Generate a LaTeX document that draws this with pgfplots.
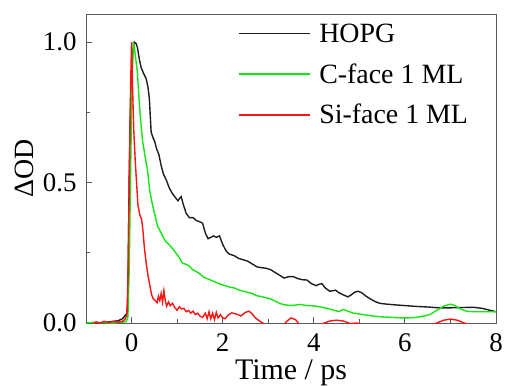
\documentclass[border=0pt]{standalone}
\usepackage{fontspec}
\setmainfont{Liberation Serif}
\usepackage{pgfplots}
\pgfplotsset{compat=1.18}
\definecolor{cblack}{RGB}{30,30,30}
\definecolor{cgreen}{RGB}{20,230,20}
\definecolor{cred}{RGB}{250,20,20}
\definecolor{cframe}{RGB}{90,90,90}
\begin{document}
\begin{tikzpicture}
\begin{axis}[
  scale only axis, width=410bp, height=309bp,
  xmin=-1, xmax=8, ymin=0, ymax=1.1,
  xtick={0,2,4,6,8}, minor xtick={1,3,5,7},
  ytick={0,0.5,1}, minor ytick={0.25,0.75},
  tick align=inside, xtick pos=bottom, ytick pos=left,
  major tick length=6bp, minor tick length=4bp,
  axis line style={cframe, line width=0.9bp},
  every tick/.style={cframe, line width=0.9bp},
  /pgf/number format/assume math mode=true,
  yticklabel style={xshift=-6bp, /pgf/number format/.cd, fixed, fixed zerofill, precision=1},
  tick label style={font=\fontsize{27}{31}\selectfont},
  xlabel={Time / ps}, ylabel={ΔOD},
  xlabel style={font=\fontsize{30}{34}\selectfont, yshift=-1bp},
  ylabel style={font=\fontsize{28}{32}\selectfont, yshift=2bp},
  xticklabel style={yshift=-7bp},
  legend style={draw=none, fill=none, at={(0.37,0.976)}, anchor=north west,
    font=\fontsize{28}{32}\selectfont, row sep=15.8bp, inner sep=0pt},
  legend cell align=left,
  every axis plot/.append style={line width=1.4bp},
]
\addplot[cblack, legend image code/.code={\draw[cblack, line width=1.4bp] (0bp,0bp) -- (71bp,0bp); \path (78bp,0bp);}] coordinates {
(-1.0,0.000) (-0.8,0.002) (-0.6,0.000) (-0.5,0.004) (-0.4,0.006) (-0.3,0.008) (-0.2,0.015) (-0.15,0.025) (-0.1,0.035)
(-0.08,0.10) (-0.05,0.55) (-0.02,0.80) (0.03,0.97) (0.06,1.0) (0.10,0.995) (0.13,0.98) (0.17,0.94) (0.21,0.91) (0.26,0.89)
(0.32,0.87) (0.36,0.84) (0.39,0.80) (0.41,0.74) (0.43,0.68) (0.47,0.66) (0.51,0.645) (0.55,0.62) (0.60,0.60) (0.65,0.56)
(0.70,0.53) (0.76,0.51) (0.83,0.48) (0.90,0.46) (0.97,0.445) (1.02,0.435) (1.06,0.445) (1.09,0.45) (1.13,0.425) (1.20,0.39)
(1.27,0.375) (1.35,0.375) (1.42,0.365) (1.50,0.36) (1.56,0.355) (1.62,0.32) (1.68,0.30) (1.74,0.305) (1.80,0.31) (1.86,0.305)
(1.93,0.31) (2.00,0.28) (2.08,0.255) (2.15,0.245) (2.25,0.24) (2.35,0.23) (2.45,0.225) (2.55,0.22) (2.65,0.21) (2.75,0.20)
(2.85,0.197) (2.95,0.195) (3.05,0.19) (3.15,0.18) (3.25,0.17) (3.35,0.16) (3.45,0.165) (3.55,0.165) (3.65,0.158) (3.75,0.154)
(3.85,0.153) (3.95,0.14) (4.05,0.133) (4.12,0.138) (4.18,0.14) (4.25,0.125) (4.35,0.113) (4.42,0.115) (4.48,0.117) (4.55,0.108)
(4.65,0.100) (4.75,0.093) (4.82,0.100) (4.90,0.110) (4.97,0.113) (5.05,0.108) (5.15,0.095) (5.25,0.085) (5.35,0.076) (5.45,0.070)
(5.55,0.068) (5.75,0.065) (6.0,0.062) (6.25,0.059) (6.5,0.057) (6.75,0.054) (7.0,0.054) (7.25,0.055) (7.5,0.056) (7.7,0.052)
(7.85,0.046) (8.0,0.040)
};
\addlegendentry{HOPG}
\addplot[cgreen, legend image code/.code={\draw[cgreen, line width=1.4bp] (0bp,0bp) -- (71bp,0bp); \path (78bp,0bp);}] coordinates {
(-1.0,0) (-0.8,0.002) (-0.6,0.001) (-0.4,0.000) (-0.2,0.003) (-0.12,0.005) (-0.08,0.02) (-0.05,0.2) (-0.02,0.55) (0.01,0.85)
(0.04,1.0) (0.07,0.97) (0.10,0.93) (0.13,0.89) (0.16,0.81) (0.19,0.74) (0.24,0.65) (0.30,0.59) (0.35,0.545) (0.40,0.47)
(0.46,0.42) (0.52,0.38) (0.57,0.345) (0.62,0.33) (0.68,0.31) (0.75,0.29) (0.83,0.278) (0.90,0.265) (0.97,0.25) (1.05,0.232)
(1.12,0.212) (1.18,0.21) (1.25,0.205) (1.34,0.19) (1.42,0.183) (1.50,0.175) (1.58,0.163) (1.66,0.158) (1.75,0.152) (1.85,0.145)
(1.95,0.138) (2.05,0.133) (2.15,0.128) (2.25,0.125) (2.35,0.118) (2.45,0.113) (2.55,0.109) (2.65,0.105) (2.75,0.097) (2.85,0.094)
(2.95,0.090) (3.05,0.086) (3.15,0.078) (3.25,0.070) (3.35,0.065) (3.45,0.063) (3.55,0.063) (3.7,0.066) (3.85,0.062) (4.0,0.061)
(4.15,0.057) (4.3,0.052) (4.45,0.045) (4.55,0.041) (4.65,0.048) (4.75,0.042) (4.85,0.036) (5.0,0.032) (5.2,0.027) (5.4,0.023)
(5.6,0.021) (5.8,0.019) (6.0,0.018) (6.2,0.019) (6.4,0.024) (6.55,0.030) (6.7,0.045) (6.85,0.060) (7.0,0.067) (7.1,0.062)
(7.2,0.052) (7.35,0.042) (7.5,0.040) (7.75,0.040) (8.0,0.040)
};
\addlegendentry{C-face 1 ML}
\addplot[cred, legend image code/.code={\draw[cred, line width=1.4bp] (0bp,0bp) -- (71bp,0bp); \path (78bp,0bp);}] coordinates {
(-1.0,-0.01) (-0.85,-0.005) (-0.78,0.004) (-0.7,0.0) (-0.6,0.006) (-0.5,0.002) (-0.4,0.005) (-0.3,0.003) (-0.2,0.006) (-0.15,0.012)
(-0.1,0.03) (-0.08,0.15) (-0.05,0.5) (-0.02,0.85) (0.0,1.0) (0.02,0.85) (0.05,0.68) (0.08,0.58) (0.11,0.50) (0.14,0.42)
(0.18,0.385) (0.22,0.37) (0.25,0.33) (0.28,0.27) (0.32,0.214) (0.36,0.17) (0.40,0.135) (0.44,0.10) (0.48,0.085) (0.52,0.08)
(0.56,0.072) (0.59,0.095) (0.62,0.08) (0.65,0.105) (0.68,0.075) (0.71,0.115) (0.74,0.08) (0.77,0.06) (0.81,0.075) (0.85,0.062)
(0.90,0.07) (0.95,0.055) (1.0,0.045) (1.05,0.058) (1.10,0.05) (1.15,0.052) (1.20,0.04) (1.25,0.045) (1.30,0.035) (1.35,0.042)
(1.40,0.030) (1.45,0.035) (1.50,0.025) (1.56,0.020) (1.62,0.035) (1.66,0.015) (1.70,0.04) (1.74,0.015) (1.78,0.035) (1.82,0.012)
(1.86,0.038) (1.90,0.018) (1.95,0.03) (2.0,0.018) (2.05,0.015) (2.12,0.028) (2.2,0.036) (2.3,0.032) (2.4,0.025) (2.5,0.038)
(2.58,0.042) (2.65,0.032) (2.72,0.018) (2.8,0.008) (2.88,0.0) (2.95,-0.01) (3.1,-0.02) (3.3,-0.015) (3.4,0.005) (3.5,0.018)
(3.6,0.012) (3.68,-0.005) (3.8,-0.02) (4.0,-0.015) (4.2,-0.002) (4.35,0.007) (4.5,0.01) (4.65,0.007) (4.8,-0.002) (4.95,0.0)
(5.1,-0.01) (5.5,-0.02) (6.0,-0.02) (6.5,-0.01) (6.7,0.0) (6.85,0.01) (7.0,0.014) (7.15,0.01) (7.3,0.0) (7.5,-0.01) (8.0,-0.02)
};
\addlegendentry{Si-face 1 ML}
\coordinate (ll) at (rel axis cs:0,0);
\coordinate (ur) at (rel axis cs:1,1);
\end{axis}
\pgfresetboundingbox
\path[use as bounding box] ([shift={(-86bp,-63bp)}]ll) rectangle ([shift={(11bp,14bp)}]ur);
\end{tikzpicture}
\end{document}
